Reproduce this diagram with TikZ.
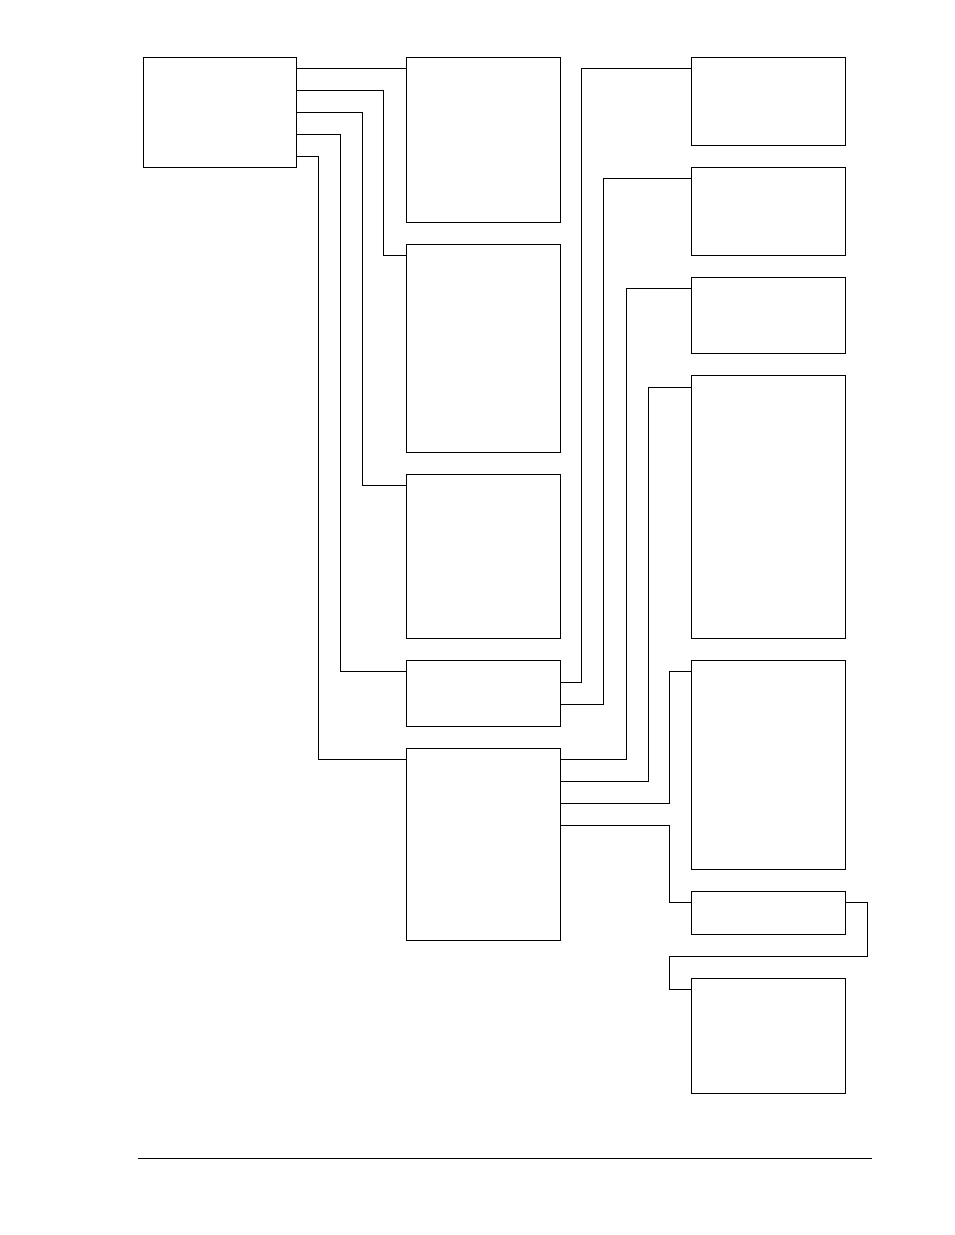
\documentclass[tikz,border=0pt]{standalone}
\begin{document}
\begin{tikzpicture}[x=1pt,y=-1pt,
  box/.style={draw,line width=0.9pt,rectangle,inner sep=0pt,outer sep=0pt,anchor=north west},
  wire/.style={line width=0.9pt}]
\useasboundingbox (0,0) rectangle (954,1235);
% column 1
\node[box,minimum width=153pt,minimum height=110pt] (A) at (143,57) {};
% column 2
\node[box,minimum width=154pt,minimum height=165pt] (B1) at (406,57) {};
\node[box,minimum width=154pt,minimum height=208pt] (B2) at (406,244) {};
\node[box,minimum width=154pt,minimum height=164pt] (B3) at (406,474) {};
\node[box,minimum width=154pt,minimum height=66pt] (B4) at (406,660) {};
\node[box,minimum width=154pt,minimum height=192pt] (B5) at (406,748) {};
% column 3
\node[box,minimum width=154pt,minimum height=88pt] (C1) at (691,57) {};
\node[box,minimum width=154pt,minimum height=88pt] (C2) at (691,167) {};
\node[box,minimum width=154pt,minimum height=76pt] (C3) at (691,277) {};
\node[box,minimum width=154pt,minimum height=263pt] (C4) at (691,375) {};
\node[box,minimum width=154pt,minimum height=209pt] (C5) at (691,660) {};
\node[box,minimum width=154pt,minimum height=43pt] (C6) at (691,891) {};
\node[box,minimum width=154pt,minimum height=115pt] (C7) at (691,978) {};
% connectors from A
\draw[wire] (A.east |- 0,68) -- (B1.west |- 0,68);
\draw[wire] (A.east |- 0,90) -| (383,255) -- (B2.west |- 0,255);
\draw[wire] (A.east |- 0,112) -| (362,485) -- (B3.west |- 0,485);
\draw[wire] (A.east |- 0,134) -| (340,671) -- (B4.west |- 0,671);
\draw[wire] (A.east |- 0,156) -| (318,759) -- (B5.west |- 0,759);
% connectors from B4
\draw[wire] (B4.east |- 0,682) -| (581,68) -- (C1.west |- 0,68);
\draw[wire] (B4.east |- 0,704) -| (603,178) -- (C2.west |- 0,178);
% connectors from B5
\draw[wire] (B5.east |- 0,759) -| (626,288) -- (C3.west |- 0,288);
\draw[wire] (B5.east |- 0,781) -| (648,387) -- (C4.west |- 0,387);
\draw[wire] (B5.east |- 0,803) -| (669,671) -- (C5.west |- 0,671);
\draw[wire] (B5.east |- 0,825) -| (669,902) -- (C6.west |- 0,902);
% C6 to C7
\draw[wire] (C6.east |- 0,902) -| (867,956) -| (669,989) -- (C7.west |- 0,989);
% bottom rule
\coordinate (R1) at (138,1158);
\coordinate (R2) at (872,1158);
\draw[wire] (R1) -- (R2);
\end{tikzpicture}
\end{document}
